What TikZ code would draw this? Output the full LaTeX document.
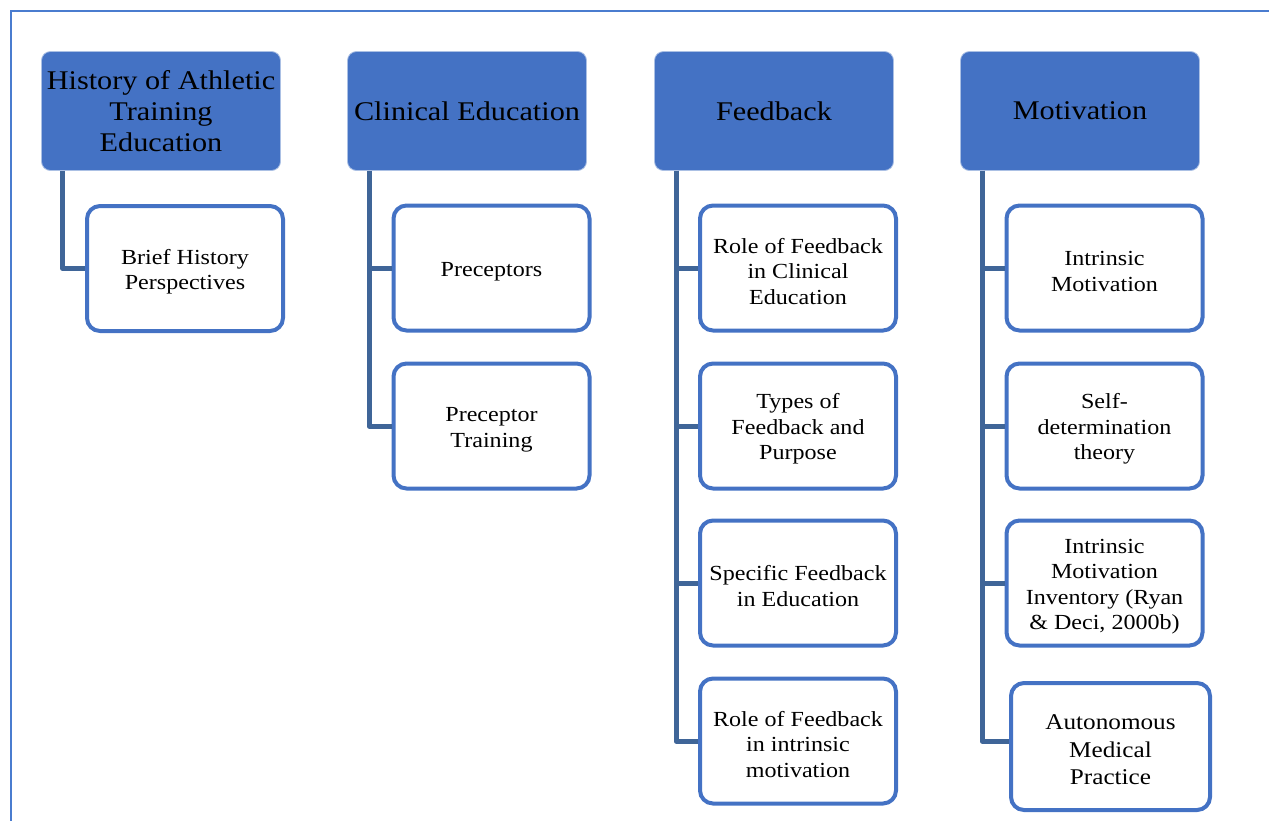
\documentclass[tikz,border=0pt]{standalone}
\usepackage{fontspec}
\setmainfont{Liberation Serif}[FakeStretch=1.12]
\definecolor{boxblue}{HTML}{4472C4}
\definecolor{linkblue}{HTML}{3F6598}
\definecolor{frameblue}{HTML}{4A7CCF}
% extra room above the first text line of a sub-topic box
\newcommand\firstline{\rule{0pt}{21.5pt}}

\begin{document}
\begin{tikzpicture}[x=1pt,y=-1pt,
  head/.style={rectangle, rounded corners=9pt, fill=boxblue, draw=boxblue!45!white,
    line width=0.8pt, minimum width=239pt, minimum height=119pt, align=center,
    font=\fontsize{27}{31}\selectfont, inner sep=0pt},
  item/.style={rectangle, rounded corners=13pt, fill=white, draw=boxblue,
    line width=4pt, minimum width=196pt, minimum height=125pt, align=center,
    font=\fontsize{21.5}{25.5}\selectfont, inner sep=0pt},
  link/.style={draw=linkblue, line width=5pt, line join=round}]
\useasboundingbox (0,0) rectangle (1269,820);

% page frame running off the right and bottom edges
\begin{scope}
  \clip (0,0) rectangle (1269,820);
  \draw[frameblue, line width=2.5pt] (11,11) rectangle (1300,850);
\end{scope}

% topic headings
\node[head] (h1) at (161,111) {History of Athletic\\Training\\Education};
\node[head] (h2) at (467,111) {Clinical Education};
\node[head] (h3) at (774,111) {Feedback};
\node[head] (h4) at (1080,111) {Motivation};

% sub-topics
\node[item] (b11) at (185,268.5) {\firstline Brief History\\Perspectives};

\node[item] (b21) at (491.5,268) {\firstline Preceptors};
\node[item] (b22) at (491.5,426) {\firstline Preceptor\\Training};

\node[item] (b31) at (798,268) {\firstline Role of Feedback\\in Clinical\\Education};
\node[item] (b32) at (798,426) {\firstline Types of\\Feedback and\\Purpose};
\node[item] (b33) at (798,583) {\firstline Specific Feedback\\in Education};
\node[item] (b34) at (798,741) {\firstline Role of Feedback\\in intrinsic\\motivation};

\node[item] (b41) at (1104.5,268) {\firstline Intrinsic\\Motivation};
\node[item] (b42) at (1104.5,426) {\firstline Self-\\determination\\theory};
\node[item] (b43) at (1104.5,583) {\firstline Intrinsic\\Motivation\\Inventory (Ryan\\\& Deci, 2000b)};
\node[item, minimum width=199pt, minimum height=127pt,
  font=\fontsize{22.5}{27.5}\selectfont] (b44) at (1110.5,746.5)
  {\firstline Autonomous\\Medical\\Practice};

% connectors
\draw[link] ([xshift=21.5pt]h1.south west) |- (b11.west);
\draw[link] ([xshift=22pt]h2.south west) |- (b21.west);
\draw[link] ([xshift=22pt]h2.south west) |- (b22.west);
\foreach \k in {1,2,3,4}
  \draw[link] ([xshift=22pt]h3.south west) |- (b3\k.west);
\foreach \k in {1,2,3}
  \draw[link] ([xshift=22pt]h4.south west) |- (b4\k.west);
\draw[link] ([xshift=22pt]h4.south west) |- ([yshift=5.5pt]b44.west);
\end{tikzpicture}
\end{document}
